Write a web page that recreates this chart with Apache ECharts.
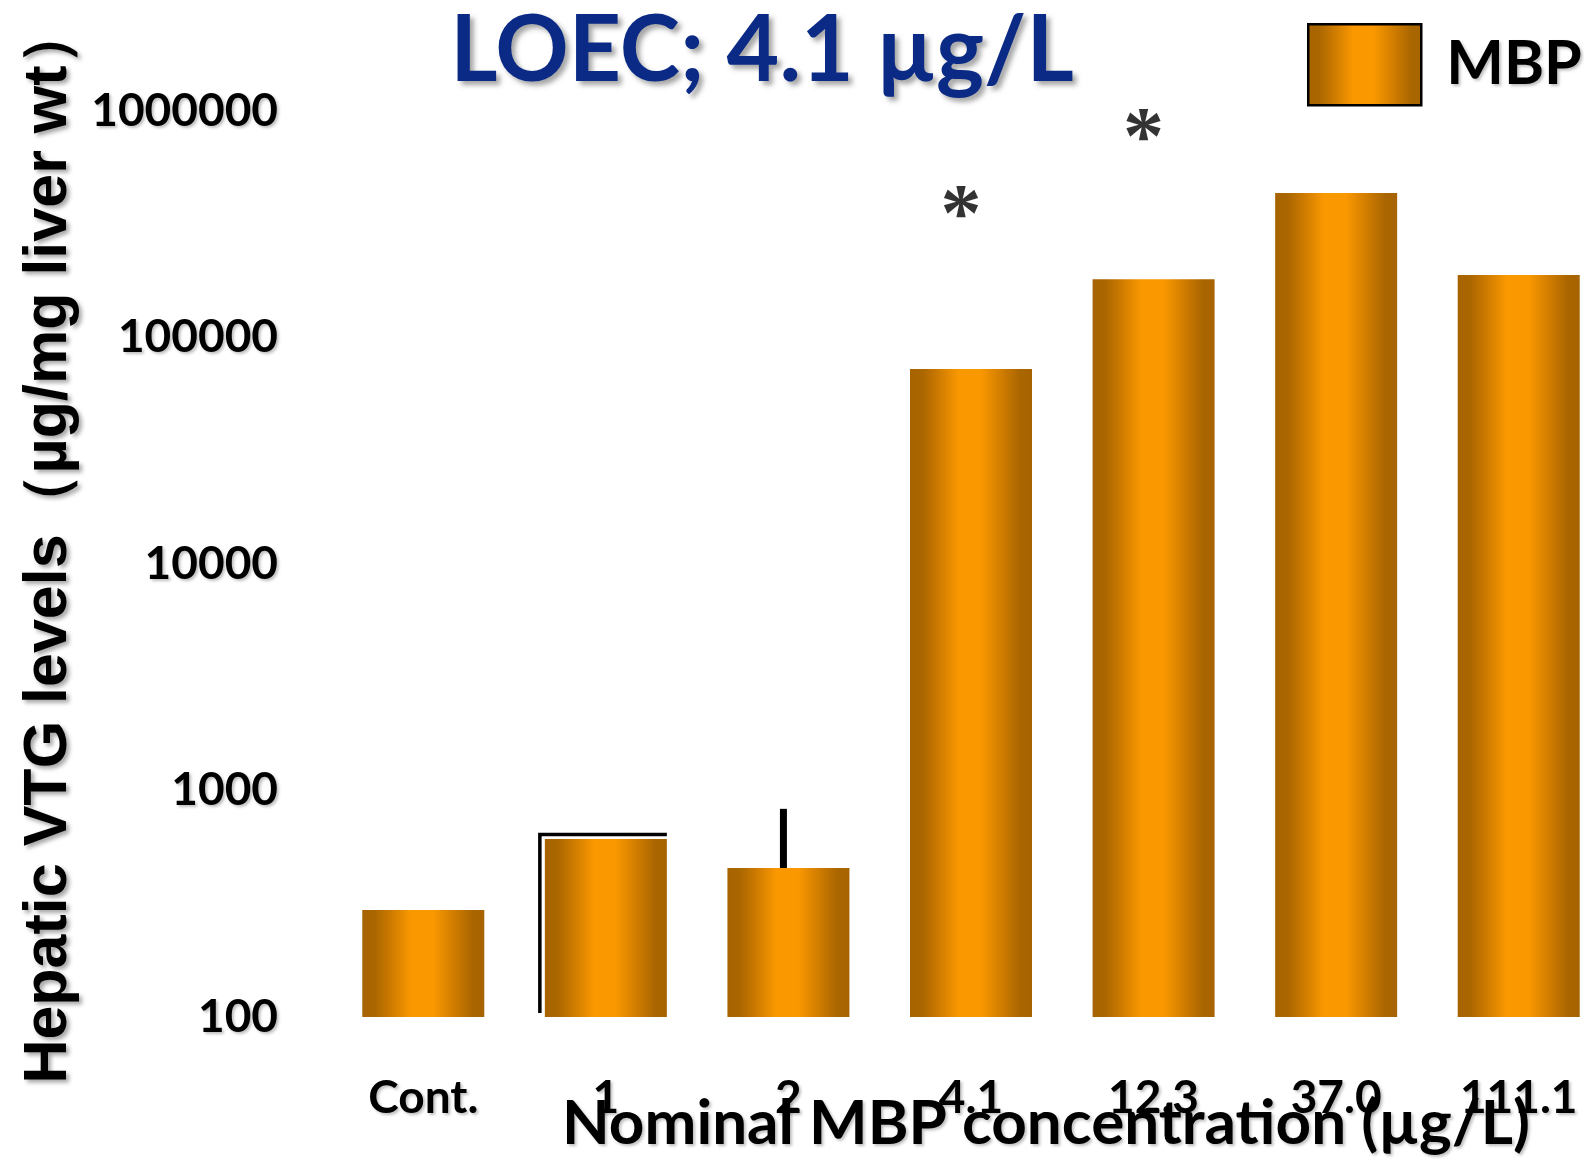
<!DOCTYPE html>
<html>
<head>
<meta charset="utf-8">
<script src="https://cdn.jsdelivr.net/npm/echarts@6/dist/echarts.min.js"></script>
<style>
html,body{margin:0;padding:0;background:#fff;}
#chart{width:1584px;height:1159px;}
</style>
</head>
<body>
<div id="chart"></div>
<script>
// ---- data ----
const categories = ['Cont.', '1', '2', '4.1', '12.3', '37.0', '111.1'];
const vtgMeans   = [297, 611, 455, 72600, 181000, 434000, 189000];
const errorUpper = [null, 640, 830, null, null, null, null];
const starLevels = [null, null, null, 400000, 880000, null, null];
const titleText  = 'LOEC; 4.1 µg/L';
const seriesName = 'MBP';
const xAxisTitle = 'Nominal MBP concentration (µg/L)';
const yAxisTitle = 'Hepatic VTG levels（µg/mg liver wt）';

const chart = echarts.init(document.getElementById('chart'), null, {renderer: 'canvas'});

const barGradient = new echarts.graphic.LinearGradient(0, 0, 1, 0, [
  {offset: 0,    color: '#A66300'},
  {offset: 0.1,  color: '#AA6600'},
  {offset: 0.22, color: '#C97800'},
  {offset: 0.4,  color: '#FA9800'},
  {offset: 0.58, color: '#FA9800'},
  {offset: 0.78, color: '#C97800'},
  {offset: 0.9,  color: '#AA6600'},
  {offset: 1,    color: '#A66300'}
]);

const shadow = {textShadowColor: 'rgba(0,0,0,0.35)', textShadowBlur: 4, textShadowOffsetX: 3, textShadowOffsetY: 3};
const lightShadow = {textShadowColor: 'rgba(0,0,0,0.25)', textShadowBlur: 3, textShadowOffsetX: 2, textShadowOffsetY: 2};

const errData = [];
errorUpper.forEach((v, i) => { if (v != null) errData.push([i, v, vtgMeans[i]]); });
const starData = starLevels.map((v, i) => v == null ? null : [i, v]).filter(d => d);

function renderErr(params, api) {
  const i = api.value(0);
  const top = api.coord([i, api.value(1)]);
  const mean = api.coord([i, api.value(2)]);
  const base = api.coord([i, 100]);
  const half = 61;
  if (i === 1) {
    return {
      type: 'polyline',
      shape: {points: [[top[0] - half - 5, base[1] - 4], [top[0] - half - 5, top[1]], [top[0] + half, top[1]]]},
      style: {stroke: '#000', lineWidth: 3.5, fill: null}
    };
  }
  return {
    type: 'line',
    shape: {x1: top[0] - 5, y1: top[1], x2: top[0] - 5, y2: mean[1]},
    style: {stroke: '#000', lineWidth: 7}
  };
}

chart.setOption({
  backgroundColor: '#fff',
  animation: false,
  title: {
    text: titleText,
    left: 757,
    top: 1,
    textAlign: 'center',
    textStyle: Object.assign({fontFamily: 'Lato', fontWeight: 'bold', fontSize: 91, color: '#0A2A86'},
      {textShadowColor: 'rgba(0,0,0,0.35)', textShadowBlur: 5, textShadowOffsetX: 4, textShadowOffsetY: 4})
  },
  legend: {
    left: 1302,
    top: 18,
    itemWidth: 113,
    itemHeight: 81,
    icon: 'rect',
    itemStyle: {borderColor: '#000', borderWidth: 2.5},
    textStyle: Object.assign({fontFamily: 'Lato', fontWeight: 'bold', fontSize: 61, color: '#000', padding: [0, 0, 0, 20]}, lightShadow),
    data: [seriesName]
  },
  grid: {left: 332, width: 1278, top: 111, bottom: 142, containLabel: false, outerBoundsMode: 'none'},
  xAxis: {
    type: 'category',
    data: categories,
    axisLine: {show: false},
    axisTick: {show: false},
    axisLabel: Object.assign({margin: 58, fontFamily: 'Lato', fontWeight: 'bold', fontSize: 46, color: '#000'}, lightShadow),
    name: xAxisTitle,
    nameLocation: 'middle',
    nameGap: 76,
    nameMoveOverlap: false,
    nameTextStyle: Object.assign({fontFamily: 'Lato', fontWeight: 'bold', fontSize: 62, color: '#000',
      padding: [0, 0, 0, 150]}, lightShadow)
  },
  yAxis: {
    type: 'log',
    logBase: 10,
    min: 100,
    max: 1000000,
    axisLine: {show: false},
    axisTick: {show: false},
    splitLine: {show: false},
    axisLabel: Object.assign({margin: 54, fontFamily: 'Lato', fontWeight: 'bold', fontSize: 46, color: '#000',
      formatter: v => String(Math.round(v))}, lightShadow),
    name: yAxisTitle,
    nameLocation: 'middle',
    nameGap: 252,
    nameRotate: 90,
    nameMoveOverlap: false,
    nameTextStyle: Object.assign({fontFamily: 'Liberation Sans', fontWeight: 'bold', fontSize: 61, color: '#000',
      padding: [0, 0, 0, 40]}, shadow)
  },
  series: [
    {
      type: 'custom',
      name: 'err',
      renderItem: renderErr,
      data: errData,
      encode: {x: 0, y: 1},
      z: 1,
      silent: true
    },
    {
      type: 'bar',
      name: seriesName,
      data: vtgMeans,
      barWidth: 122,
      itemStyle: {color: barGradient},
      z: 2
    },
    {
      type: 'scatter',
      name: 'sig',
      data: starData,
      symbolSize: 1,
      itemStyle: {color: 'rgba(0,0,0,0)'},
      label: {show: true, formatter: '*', position: 'inside', offset: [-10, 18],
        fontFamily: 'Liberation Serif', fontWeight: 'bold', fontSize: 82, color: '#000'},
      z: 3,
      silent: true
    }
  ]
});
</script>
</body>
</html>
